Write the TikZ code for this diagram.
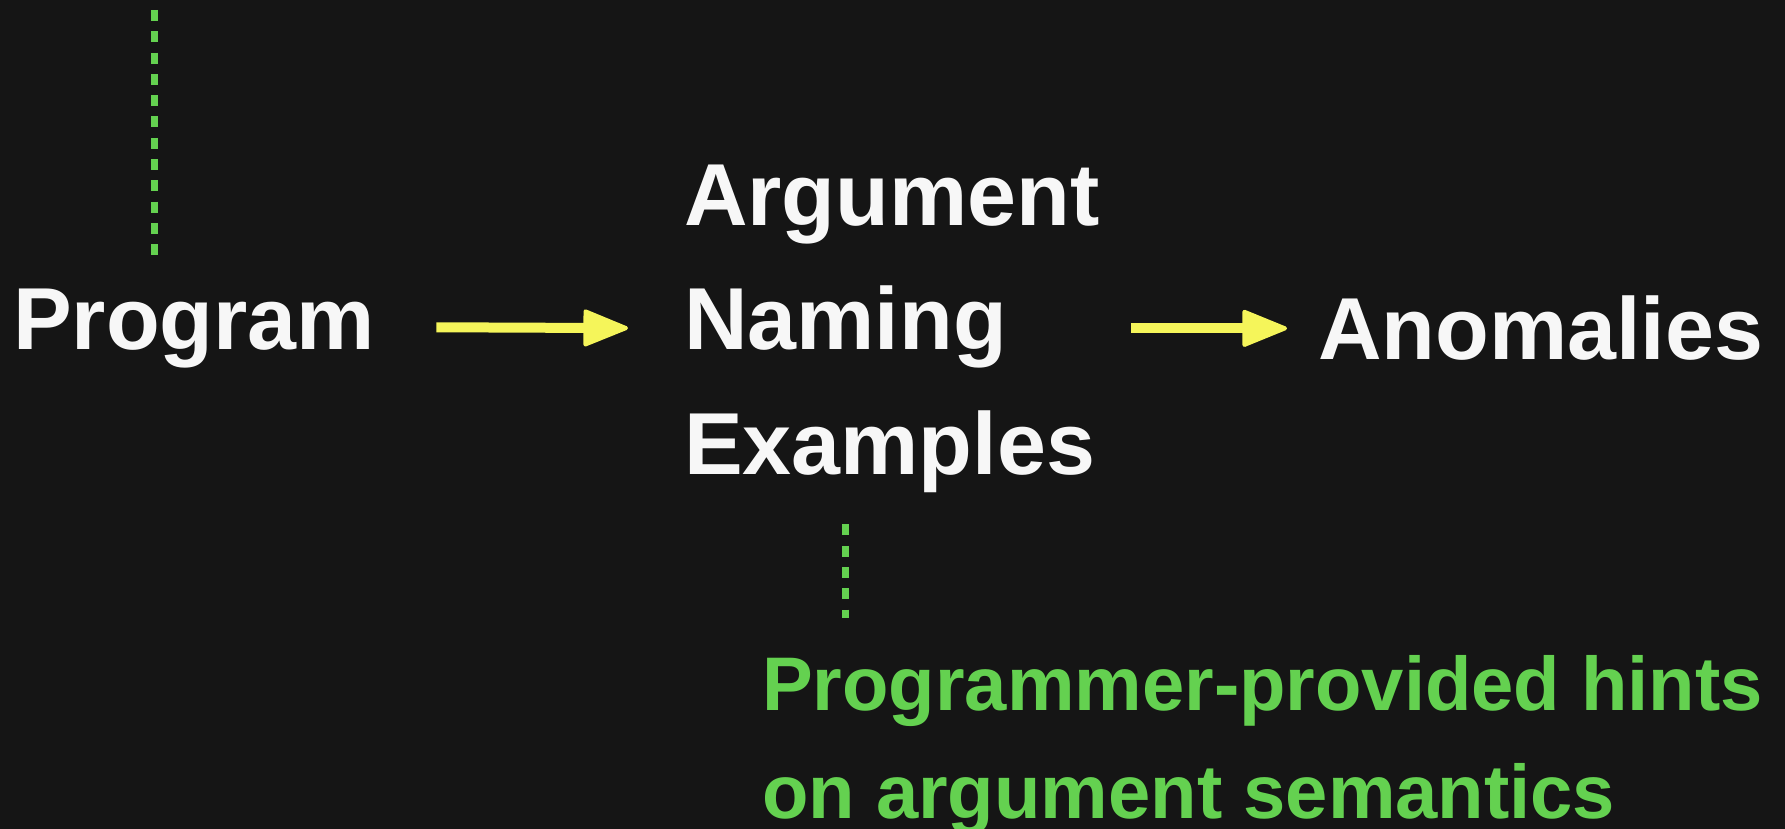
\documentclass[tikz,border=0pt]{standalone}
\usepackage{fontspec}
\setmainfont{Liberation Sans}
\usetikzlibrary{arrows.meta}

\definecolor{bgdark}{HTML}{151515}
\definecolor{txtwhite}{HTML}{F7F7F7}
\definecolor{flowyellow}{HTML}{F5F55A}
\definecolor{hintgreen}{HTML}{64D150}

\tikzset{
	bigtext/.style={inner sep=0pt, text=txtwhite, font=\bfseries\fontsize{88}{124.5}\selectfont, align=left},
	hinttext/.style={inner sep=0pt, text=hintgreen, font=\bfseries\fontsize{76}{108}\selectfont, align=left},
	flow/.style={line width=10pt, flowyellow, -{Triangle[length=48pt, width=38pt, round, line width=4pt]}},
	hintlink/.style={line width=7pt, hintgreen, dash pattern=on 11pt off 10.3pt}
}

\begin{document}
	\begin{tikzpicture}[x=1pt, y=-1pt]
		\fill[bgdark] (0,0) rectangle (1785,829);
		\useasboundingbox (0,0) rectangle (1785,829);
		\node[bigtext, text height=63pt, text depth=19pt, anchor=base west] (prog) at (13,349) {Program};
		\node[bigtext, anchor=base west] (names) at (684,474) {Argument\\Naming\\Examples};
		\node[bigtext, text height=63pt, text depth=19pt, anchor=base west] (anom) at (1318,359) {Anomalies};
		\node[hinttext, anchor=base west] (hint) at (762,818) {Programmer-provided hints\\on argument semantics};
		\coordinate (above) at (154,10);
		\coordinate (hintx) at ([xshift=-46pt]names.south);
		\draw[flow, shorten <=61pt, shorten >=56pt] (prog.east) -- (names.west);
		\draw[flow, shorten <=31pt, shorten >=31pt] (names.east) -- (names.east -| anom.west);
		\draw[hintlink] (above) -- ([yshift=30pt]above |- prog.north);
		\draw[hintlink] ([yshift=-32pt]hintx) -- ([yshift=37pt]hintx |- hint.north);
	\end{tikzpicture}
\end{document}
